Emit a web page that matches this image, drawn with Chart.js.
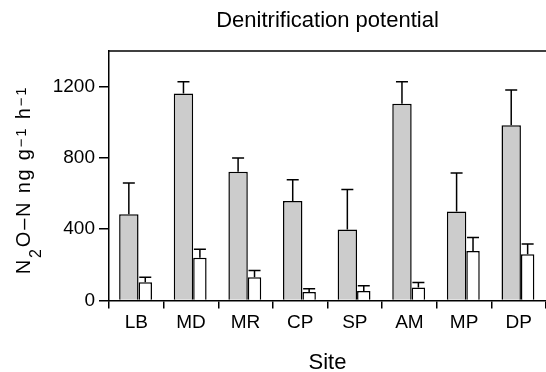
<!DOCTYPE html>
<html>
<head>
<meta charset="utf-8">
<script src="https://cdn.jsdelivr.net/npm/chart.js@4"></script>
<style>
  html, body { margin: 0; padding: 0; background: #fff; }
  #wrap { width: 546px; height: 372px; }
</style>
</head>
<body>
<div id="wrap"><canvas id="grafico"></canvas></div>
<script>
// dados
const sites = ["LB", "MD", "MR", "CP", "SP", "AM", "MP", "DP"];
const potencial = [484, 1162, 723, 558, 398, 1104, 500, 984];
const potencialErro = [175, 66, 77, 120, 225, 124, 215, 197];
const ambiente = [103, 240, 130, 47, 54, 73, 278, 259];
const ambienteErro = [28, 47, 39, 19, 29, 28, 75, 58];
const yTicks = [0, 400, 800, 1200];

Chart.defaults.font.family = "'Liberation Sans', Arial, sans-serif";
Chart.defaults.color = "#000";

// barras de erro (só para cima)
const errorBars = {
    id: "errorBars",
    afterDatasetsDraw(chart) {
        const ctx = chart.ctx;
        const y = chart.scales.y;
        chart.data.datasets.forEach((ds, i) => {
            const meta = chart.getDatasetMeta(i);
            meta.data.forEach((bar, j) => {
                const top = y.getPixelForValue(ds.data[j] + ds.errors[j]);
                ctx.save();
                ctx.strokeStyle = "#000";
                ctx.lineWidth = 1.5;
                ctx.beginPath();
                ctx.moveTo(bar.x, bar.y);
                ctx.lineTo(bar.x, top);
                ctx.moveTo(bar.x - 6, top);
                ctx.lineTo(bar.x + 6, top);
                ctx.stroke();
                ctx.restore();
            });
        });
    }
};

// linha de cima + título do eixo y com sub/sobrescritos
const extras = {
    id: "extras",
    afterDraw(chart) {
        const ctx = chart.ctx;
        const area = chart.chartArea;
        ctx.save();
        ctx.strokeStyle = "#000";
        ctx.lineWidth = 1.5;
        ctx.beginPath();
        ctx.moveTo(area.left - 0.75, area.top);
        ctx.lineTo(chart.width, area.top);
        ctx.stroke();
        ctx.restore();

        const size = 20;
        const sub = 16;
        const sup = 15;
        const gap = 1.8;
        const parts = [
            { t: "N", s: 0 },
            { t: "2", s: -1 },
            { t: "O\u2013N ng g", s: 0 },
            { t: "\u22121", s: 1 },
            { t: " h", s: 0 },
            { t: "\u22121", s: 1 }
        ];
        const fam = Chart.defaults.font.family;
        ctx.save();
        const glyphs = [];
        let total = 0;
        parts.forEach(p => {
            const fs = p.s === 0 ? size : (p.s < 0 ? sub : sup);
            ctx.font = fs + "px " + fam;
            let dy = 0;
            if (p.s === -1) dy = 11;
            if (p.s === 1) dy = -(size - sup) * 0.72;
            for (const ch of p.t) {
                const w = ctx.measureText(ch).width;
                glyphs.push({ ch, fs, dy, x: total });
                total += w + gap;
            }
        });
        total -= gap;
        ctx.translate(30, (area.top + area.bottom) / 2 + 5);
        ctx.rotate(-Math.PI / 2);
        ctx.fillStyle = "#000";
        ctx.textBaseline = "alphabetic";
        glyphs.forEach(g => {
            ctx.font = g.fs + "px " + fam;
            ctx.fillText(g.ch, g.x - total / 2, g.dy);
        });
        ctx.restore();
    }
};

new Chart(document.getElementById("grafico"), {
    type: "bar",
    data: {
        labels: sites,
        datasets: [
            {
                label: "Potencial",
                data: potencial,
                errors: potencialErro,
                backgroundColor: "#cccccc",
                borderColor: "#000",
                borderWidth: 1.5,
                categoryPercentage: 0.547,
                barPercentage: 1.3
            },
            {
                label: "Ambiente",
                data: ambiente,
                errors: ambienteErro,
                backgroundColor: "#ffffff",
                borderColor: "#000",
                borderWidth: 1.5,
                categoryPercentage: 0.656,
                barPercentage: 0.75
            }
        ]
    },
    options: {
        responsive: true,
        maintainAspectRatio: false,
        animation: false,
        layout: { padding: { left: 0, right: -2, top: 0, bottom: 0 } },
        plugins: {
            legend: { display: false },
            tooltip: { enabled: false },
            title: {
                display: true,
                text: "Denitrification potential",
                fullSize: false,
                color: "#000",
                font: { size: 22, weight: "normal", lineHeight: 1.2 },
                padding: { top: 8, bottom: 16.6 }
            }
        },
        scales: {
            x: {
                ticks: { color: "#000", font: { size: 19 }, padding: 3 },
                grid: { drawOnChartArea: false, tickLength: 8, color: "#000", lineWidth: 1.5, offset: true },
                border: { color: "#000", width: 1.5 },
                title: {
                    display: true,
                    text: "Site",
                    color: "#000",
                    font: { size: 22, lineHeight: 1 },
                    padding: { top: 0, bottom: -2 }
                },
                afterFit: s => { s.height = 71.5; }
            },
            y: {
                min: 0,
                max: 1400,
                ticks: {
                    stepSize: 400,
                    color: "#000",
                    font: { size: 19 },
                    padding: 4,
                    callback: v => String(v)
                },
                grid: { drawOnChartArea: false, tickLength: 10, color: "#000", lineWidth: 1.5 },
                border: { color: "#000", width: 1.5 },
                afterBuildTicks: s => { s.ticks = s.ticks.filter(t => yTicks.includes(t.value)); },
                afterFit: s => { s.width = 109; }
            }
        }
    },
    plugins: [errorBars, extras]
});
</script>
</body>
</html>
